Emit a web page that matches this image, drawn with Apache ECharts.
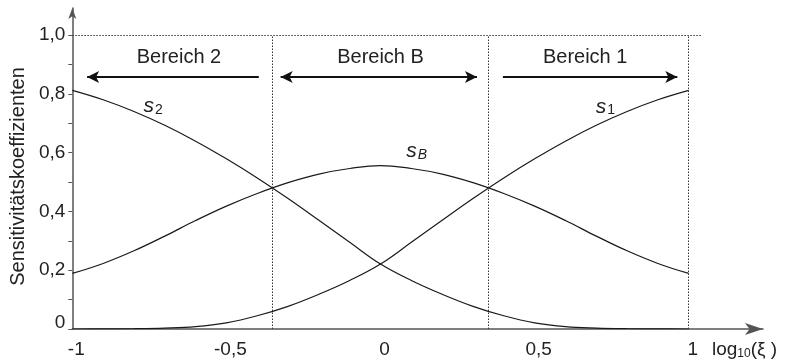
<!DOCTYPE html>
<html>
<head>
<meta charset="utf-8">
<script src="https://cdn.jsdelivr.net/npm/echarts@6/dist/echarts.min.js"></script>
<style>
  html, body { margin: 0; padding: 0; background: #fff; }
  #chart { width: 786px; height: 363px; }
</style>
</head>
<body>
<div id="chart"></div>
<script>
// log10(xi) sample positions
const xValues = [-1, -0.9, -0.8, -0.7, -0.6, -0.5, -0.4, -0.3, -0.2, -0.1, 0,
                 0.1, 0.2, 0.3, 0.4, 0.5, 0.6, 0.7, 0.8, 0.9, 1];

// sensitivity coefficients
const s1 = [0.000, 0.0005, 0.001, 0.003, 0.008, 0.021, 0.045, 0.077, 0.118, 0.165, 0.221,
            0.295, 0.370, 0.444, 0.514, 0.579, 0.639, 0.693, 0.740, 0.780, 0.812];
const s2 = [0.812, 0.780, 0.740, 0.693, 0.639, 0.579, 0.514, 0.444, 0.370, 0.295, 0.221,
            0.165, 0.118, 0.077, 0.045, 0.021, 0.008, 0.003, 0.001, 0.0005, 0.000];
const sB = [0.189, 0.223, 0.266, 0.316, 0.369, 0.418, 0.461, 0.498, 0.527, 0.546, 0.556,
            0.546, 0.527, 0.498, 0.461, 0.418, 0.369, 0.316, 0.266, 0.223, 0.189];

// axis ticks and labels
const xTickValues = [-1, -0.5, 0, 0.5, 1];
const yTickValues = [0, 0.1, 0.2, 0.3, 0.4, 0.5, 0.6, 0.7, 0.8, 0.9, 1.0];
const yLabelValues = [0, 0.2, 0.4, 0.6, 0.8, 1.0];

// region boundaries (vertical dotted lines) and the 1,0 reference line
const regionBounds = [-0.35, 0.35, 1];
const refLevel = 1.0;
const refLineEnd = 1.04;

// region arrows: [tail, head] in log10(xi); both heads for the middle region
const regionNames = ['Bereich 2', 'Bereich B', 'Bereich 1'];
const regionArrowFrom = [-0.395, -0.324, 0.397];
const regionArrowTo = [-0.952, 0.313, 0.963];
const regionArrowBoth = [false, true, false];
const regionLabelX = [-0.654, 0.0, 0.664];
const arrowLevel = 0.857;
const regionLabelLevel = 0.925;

// curve name positions
const curveNames = ['s1', 's2', 'sB'];
const curveLabelX = [0.730, -0.738, 0.117];
const curveLabelY = [0.750, 0.752, 0.600];

const FONT = "'Liberation Sans', Arial, Helvetica, sans-serif";
const INK = '#222';

function zip(xs, ys) { return xs.map((x, i) => [x, ys[i]]); }
const comma = v => (Math.round(v * 10) / 10).toFixed(1).replace('.', ',');

const chart = echarts.init(document.getElementById('chart'), null, { renderer: 'canvas' });

const curveStyle = { color: '#1a1a1a', width: 1.2 };
const dotted = { color: '#333', width: 1, type: [1.5, 1.5] };

const subRich = {
  s:  { fontFamily: FONT, fontSize: 21, fontStyle: 'italic', color: INK, lineHeight: 24, verticalAlign: 'top' },
  n:  { fontFamily: FONT, fontSize: 14, color: INK, lineHeight: 24, verticalAlign: 'top', padding: [7, 0, 0, 1] },
  ni: { fontFamily: FONT, fontSize: 14, fontStyle: 'italic', color: INK, lineHeight: 24, verticalAlign: 'top', padding: [7, 0, 0, 1] }
};
const curveLabelText = {
  s1: '{s|s}{n|1}',
  s2: '{s|s}{n|2}',
  sB: '{s|s}{ni|B}'
};

// dotted guide lines
const guideLines = [
  [{ coord: [xValues[0], refLevel], symbol: 'none' }, { coord: [refLineEnd, refLevel], symbol: 'none' }]
].concat(regionBounds.map(b => [
  { coord: [b, 0], symbol: 'none' }, { coord: [b, refLevel], symbol: 'none' }
]));
guideLines.forEach(p => { p[0].lineStyle = dotted; });

// region arrows
const arrowLines = regionNames.map((n, i) => [
  { coord: [regionArrowFrom[i], arrowLevel], symbol: regionArrowBoth[i] ? 'arrow' : 'none',
    lineStyle: { color: '#111', width: 2, type: 'solid' } },
  { coord: [regionArrowTo[i], arrowLevel], symbol: 'arrow' }
]);

const regionLabelPoints = regionNames.map((n, i) => ({
  coord: [regionLabelX[i], regionLabelLevel],
  label: { formatter: n, fontSize: 20 }
}));
const curveLabelPoints = curveNames.map((n, i) => ({
  coord: [curveLabelX[i], curveLabelY[i]],
  label: { formatter: curveLabelText[n], rich: subRich }
}));

chart.setOption({
  animation: false,
  backgroundColor: '#fff',
  grid: { left: 70, right: 23, top: 8, bottom: 34, containLabel: false },
  xAxis: {
    type: 'value',
    min: -1,
    max: 1.241,
    splitLine: { show: false },
    axisLine: {
      show: true, onZero: false,
      symbol: ['none', 'arrow'], symbolSize: [9, 18],
      lineStyle: { color: '#555', width: 1.5 }
    },
    axisTick: { show: false },
    axisLabel: {
      customValues: xTickValues,
      formatter: v => (v === Math.round(v) ? String(v) : String(v).replace('.', ',')),
      fontFamily: FONT, fontSize: 19, color: INK, margin: 11,
      padding: [0, 0, 0, 8]
    },
    name: '{a|log}{b|10}{a|(ξ )}',
    nameLocation: 'end',
    nameGap: -51,
    nameTextStyle: {
      verticalAlign: 'top',
      padding: [11, 0, 0, 0],
      rich: {
        a: { fontFamily: FONT, fontSize: 19, color: INK, lineHeight: 19, verticalAlign: 'top' },
        b: { fontFamily: FONT, fontSize: 12, color: INK, lineHeight: 19, verticalAlign: 'top', padding: [8, 0, 0, 0] }
      }
    }
  },
  yAxis: {
    type: 'value',
    min: 0,
    max: 1.092,
    splitLine: { show: false },
    axisLine: {
      show: true, onZero: false,
      symbol: ['none', 'arrow'], symbolSize: [6, 11],
      lineStyle: { color: '#555', width: 1.5 }
    },
    axisTick: {
      show: true, customValues: yTickValues, length: 4, inside: false,
      lineStyle: { color: '#555', width: 1 }
    },
    axisLabel: {
      customValues: yLabelValues,
      formatter: v => (v === 0 ? '{z|0}' : comma(v)),
      fontFamily: FONT, fontSize: 19, color: INK, margin: 7,
      rich: { z: { fontFamily: FONT, fontSize: 19, color: INK, padding: [0, 0, 13, 0] } }
    },
    name: 'Sensitivitätskoeffizienten',
    nameLocation: 'middle',
    nameRotate: 90,
    nameGap: 43,
    nameTextStyle: { fontFamily: FONT, fontSize: 20, color: INK, padding: [0, 16, 0, 0] }
  },
  series: [
    {
      name: 's1', type: 'line', data: zip(xValues, s1), smooth: 0.4,
      showSymbol: false, symbol: 'none', lineStyle: curveStyle, silent: true
    },
    {
      name: 's2', type: 'line', data: zip(xValues, s2), smooth: 0.4,
      showSymbol: false, symbol: 'none', lineStyle: curveStyle, silent: true
    },
    {
      name: 'sB', type: 'line', data: zip(xValues, sB), smooth: 0.4,
      showSymbol: false, symbol: 'none', lineStyle: curveStyle, silent: true,
      markLine: {
        silent: true,
        symbolSize: [9, 12],
        label: { show: false },
        emphasis: { disabled: true },
        lineStyle: { color: '#111', width: 2, type: 'solid' },
        data: guideLines.concat(arrowLines)
      },
      markPoint: {
        silent: true,
        symbol: 'circle',
        symbolSize: 0,
        itemStyle: { color: 'rgba(0,0,0,0)' },
        label: { show: true, position: 'inside', fontFamily: FONT, color: INK },
        emphasis: { disabled: true },
        data: regionLabelPoints.concat(curveLabelPoints)
      }
    }
  ]
});
</script>
</body>
</html>
